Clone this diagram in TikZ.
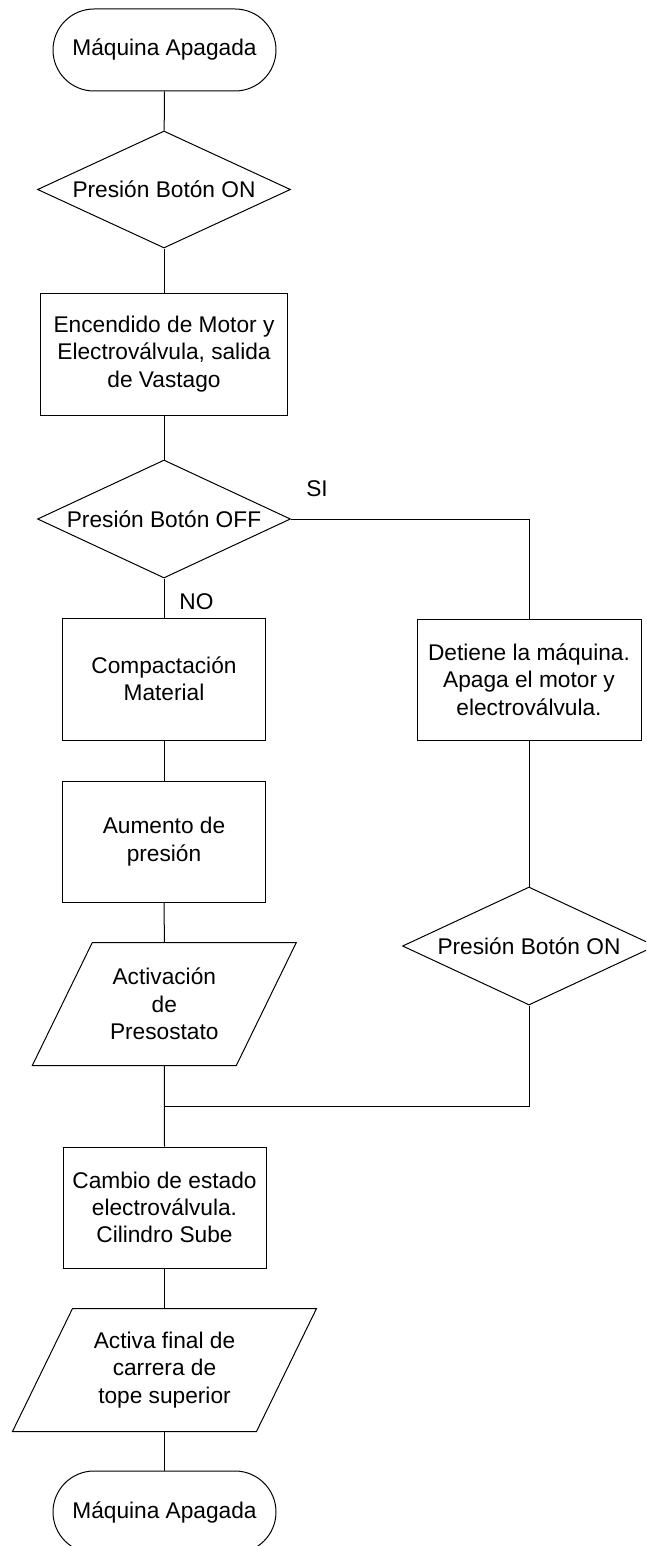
\documentclass[tikz,border=0pt]{standalone}
\usepackage{fontspec}
\setmainfont{Liberation Sans}
\usetikzlibrary{shapes.geometric}

\tikzset{
  base/.style={font=\fontsize{22.7}{27.3}\selectfont, align=center, inner sep=0pt, line width=1pt},
  terminal/.style={base, draw, rectangle, rounded corners=41pt, minimum width=223pt, minimum height=82pt},
  decision/.style={base, draw, diamond, minimum width=253pt, minimum height=117pt},
  process/.style={base, draw, rectangle, minimum width=203pt, minimum height=121pt},
  io/.style={base, rectangle, minimum height=122pt},
  flow/.style={line width=1pt},
  tag/.style={base, anchor=center}
}

% slanted box drawn round an io node
\newcommand{\slantbox}[1]{%
  \draw[flow] ([xshift=30pt]#1.north west) -- ([xshift=30pt]#1.north east)
    -- ([xshift=-30pt]#1.south east) -- ([xshift=-30pt]#1.south west) -- cycle;}

\begin{document}
\begin{tikzpicture}[x=1pt, y=-1pt]
\useasboundingbox (0,0) rectangle (646,1546);
\clip (0,0) rectangle (646,1546);

% main column
\node[terminal] (start) at (164.5,50) {Máquina Apagada};
\node[decision, label={[base]center:Presión Botón ON}] (on1) at (164,189.5) {};
\node[process, minimum width=247pt, minimum height=122pt] (motor) at (164,354) {Encendido de Motor y\\Electroválvula, salida\\de Vastago};
\node[decision, minimum height=118pt, label={[base]center:Presión Botón OFF}] (off) at (164,519) {};
\node[process, minimum height=122pt] (comp) at (164,679) {Compactación\\Material};
\node[process] (aum) at (164,841.5) {Aumento de\\presión};
\node[io, minimum width=203pt] (preso) at (164.3,1004) {Activación\\de\\Presostato};
\slantbox{preso}
\node[process] (cambio) at (164.5,1207.5) {Cambio de estado\\electroválvula.\\Cilindro Sube};
\node[io, minimum width=243pt] (tope) at (164.5,1370) {Activa final de\\carrera de\\tope superior};
\slantbox{tope}
\node[terminal] (stop) at (164.5,1512) {Máquina Apagada};

% right branch
\node[process, minimum width=224pt] (halt) at (529,679.5) {Detiene la máquina.\\Apaga el motor y\\electroválvula.};
\node[decision, minimum height=118pt, label={[base]center:Presión Botón ON}] (on2) at (529,946) {};

\coordinate (join) at (164,1106);

% connectors
\draw[flow] (start) -- (on1);
\draw[flow] (on1) -- (motor);
\draw[flow] (motor) -- (off);
\draw[flow] (off) -- (comp);
\draw[flow] (off.east) -| (halt.north);
\draw[flow] (comp) -- (aum);
\draw[flow] (aum) -- (preso.north);
\draw[flow] (preso.south) -- (cambio.north);
\draw[flow] (halt) -- (on2);
\draw[flow] (on2.south) |- (join);
\draw[flow] (cambio.south) -- (tope.north);
\draw[flow] (tope.south) -- (stop.north);

% branch labels
\node[tag] (si) at (317,489) {SI};
\node[tag] (no) at (196.5,602) {NO};
\end{tikzpicture}
\end{document}
